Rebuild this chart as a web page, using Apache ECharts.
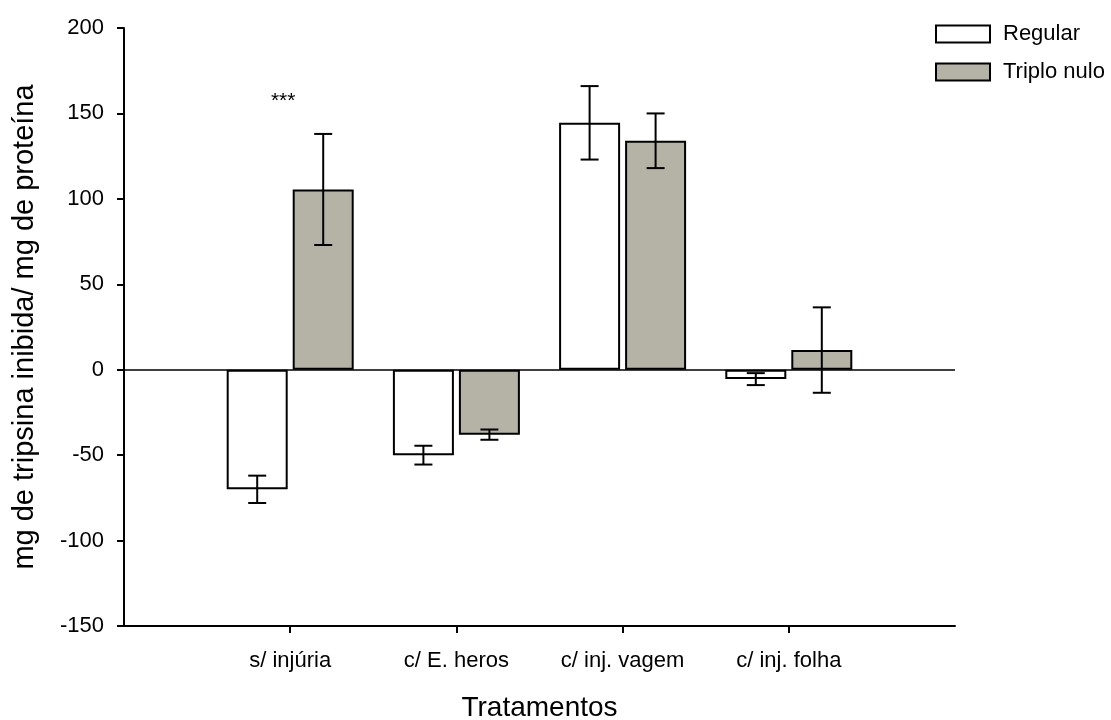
<!DOCTYPE html>
<html>
<head>
<meta charset="utf-8">
<script src="https://cdn.jsdelivr.net/npm/echarts@6/dist/echarts.min.js"></script>
<style>
  html, body { margin: 0; padding: 0; background: #fff; }
  #chart { width: 1111px; height: 720px; }
</style>
</head>
<body>
<div id="chart"></div>
<script>
// dados
const categories = ["s/ injúria", "c/ E. heros", "c/ inj. vagem", "c/ inj. folha"];
const regular = [-70, -50, 144.5, -5.5];
const regularErr = [8, 5.5, 21.5, 3.5];
const triplo = [105.5, -38, 134, 11.5];
const triploErr = [32.5, 3, 16, 25];
const yTicks = { min: -150, max: 200, step: 50 };

const FONT = "Liberation Sans, Arial, sans-serif";
const BAR_W = 61;
const BAR_GAP = 5;

// eixo com uma posição vazia em cada ponta (os ticks ficam só nas categorias)
const axisData = [""].concat(categories, [""]);
const pad = arr => ["-"].concat(arr, ["-"]);

function errData(vals, errs) {
  return vals.map((v, i) => [i + 1, v, errs[i]]);
}

function errorBar(offset) {
  return function (params, api) {
    const x = api.value(0), v = api.value(1), e = api.value(2);
    const hi = api.coord([x, v + e]);
    const lo = api.coord([x, v - e]);
    const cx = hi[0] + offset;
    const cap = 9;
    const style = { stroke: "#000", lineWidth: 2 };
    return {
      type: "group",
      children: [
        { type: "line", shape: { x1: cx, y1: hi[1], x2: cx, y2: lo[1] }, style },
        { type: "line", shape: { x1: cx - cap, y1: hi[1], x2: cx + cap, y2: hi[1] }, style },
        { type: "line", shape: { x1: cx - cap, y1: lo[1], x2: cx + cap, y2: lo[1] }, style }
      ]
    };
  };
}

const chart = echarts.init(document.getElementById("chart"));
const off = (BAR_W + BAR_GAP) / 2;

chart.setOption({
  animation: false,
  backgroundColor: "#fff",
  textStyle: { fontFamily: FONT, color: "#000" },
  grid: { left: 124, right: 156, top: 28, bottom: 94, outerBoundsMode: "none", containLabel: false },
  legend: {
    orient: "vertical",
    left: 935,
    top: 23,
    padding: 0,
    icon: "rect",
    itemWidth: 54,
    itemHeight: 17,
    itemGap: 16,
    textStyle: { fontSize: 22, lineHeight: 17, fontFamily: FONT, color: "#000", padding: [0, 0, 0, 8] },
    data: ["Regular", "Triplo nulo"]
  },
  xAxis: {
    type: "category",
    data: axisData,
    boundaryGap: false,
    name: "Tratamentos",
    nameLocation: "middle",
    nameGap: 68,
    nameTextStyle: { fontSize: 28, fontFamily: FONT, color: "#000" },
    axisLine: { onZero: false, lineStyle: { color: "#000", width: 2 } },
    axisTick: {
      length: 7,
      lineStyle: { color: "#000", width: 2 },
      interval: idx => idx > 0 && idx <= categories.length
    },
    axisLabel: {
      fontSize: 22,
      fontFamily: FONT,
      color: "#000",
      margin: 24,
      interval: 0
    },
    splitLine: { show: false }
  },
  yAxis: {
    type: "value",
    min: yTicks.min,
    max: yTicks.max,
    interval: yTicks.step,
    name: "mg de tripsina inibida/ mg de proteína",
    nameLocation: "middle",
    nameGap: 85,
    nameTextStyle: { fontSize: 29, fontFamily: FONT, color: "#000" },
    axisLine: { show: true, lineStyle: { color: "#000", width: 2 } },
    axisTick: { show: true, length: 7, lineStyle: { color: "#000", width: 2 } },
    axisLabel: { fontSize: 22, fontFamily: FONT, color: "#000", margin: 20 },
    splitLine: { show: false }
  },
  series: [
    {
      name: "Regular",
      type: "bar",
      data: pad(regular),
      barWidth: BAR_W,
      barGap: (BAR_GAP / BAR_W * 100).toFixed(1) + "%",
      itemStyle: { color: "#ffffff", borderColor: "#000", borderWidth: 2 },
      markLine: {
        silent: true,
        symbol: "none",
        label: { show: false },
        lineStyle: { color: "#000", width: 1.5, type: "solid" },
        data: [{ yAxis: 0 }]
      },
      markPoint: {
        symbol: "rect",
        symbolSize: 1,
        itemStyle: { color: "rgba(0,0,0,0)" },
        label: {
          show: true,
          position: "inside",
          formatter: "***",
          fontSize: 21,
          fontFamily: FONT,
          color: "#000",
          offset: [26, 0]
        },
        data: [{ coord: [1, 157] }]
      },
      z: 2
    },
    {
      name: "Triplo nulo",
      type: "bar",
      data: pad(triplo),
      barWidth: BAR_W,
      itemStyle: { color: "#b5b3a6", borderColor: "#000", borderWidth: 2 },
      z: 2
    },
    {
      type: "custom",
      renderItem: errorBar(-off),
      data: errData(regular, regularErr),
      z: 5,
      silent: true
    },
    {
      type: "custom",
      renderItem: errorBar(off),
      data: errData(triplo, triploErr),
      z: 5,
      silent: true
    }
  ]
});
</script>
</body>
</html>
